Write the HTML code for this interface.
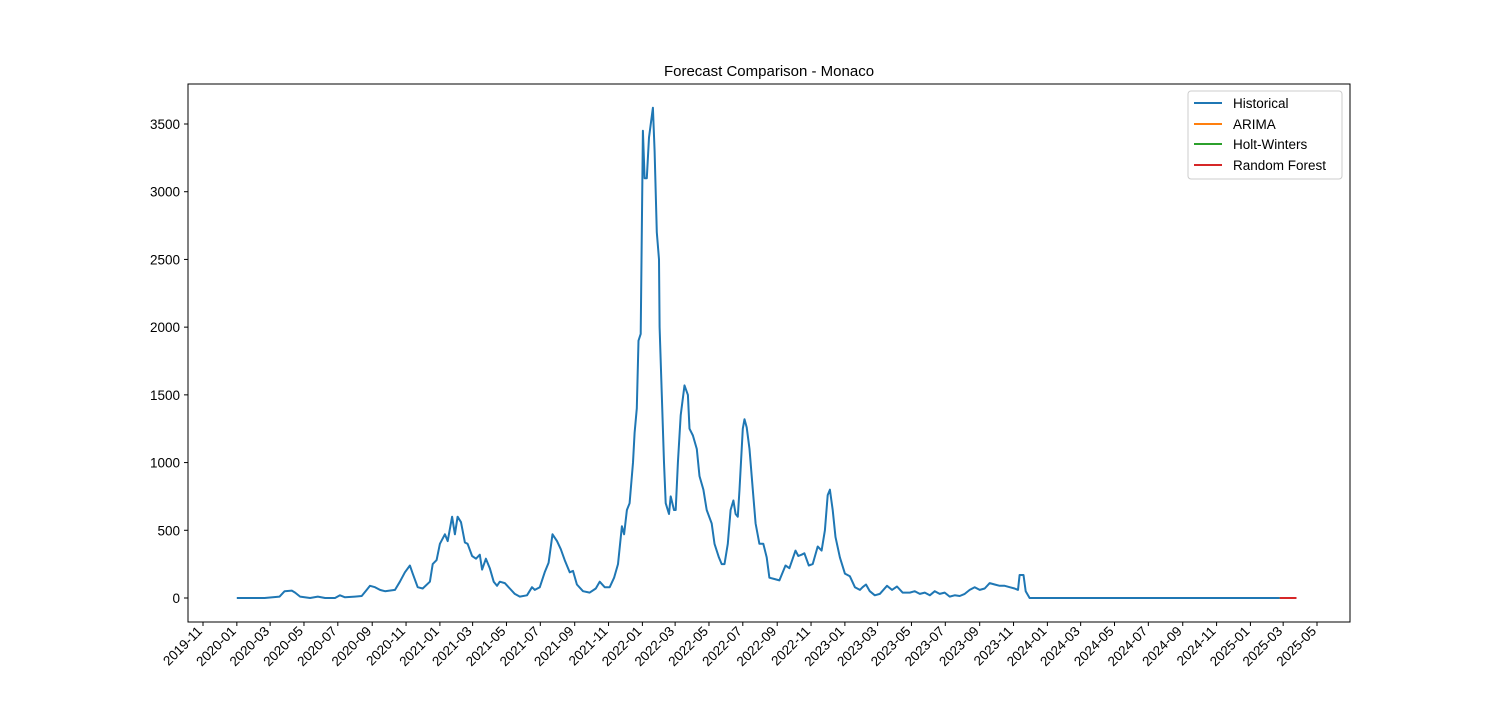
<!DOCTYPE html>
<html><head><meta charset="utf-8"><style>
body{margin:0;background:#fff;}
svg text{font-family:"Liberation Sans","DejaVu Sans",sans-serif;}
</style></head><body>
<svg id="chart" width="1500" height="700" xmlns="http://www.w3.org/2000/svg">
<rect width="1500" height="700" fill="#fff"/>
<text x="769" y="76" font-size="15" text-anchor="middle">Forecast Comparison - Monaco</text>
<g id="plot"></g>
<rect x="188" y="84" width="1162" height="538" fill="none" stroke="#000" stroke-width="1"/>
<g>
<rect x="1188" y="91" width="154" height="88" fill="#fff" stroke="#ccc" rx="3"/>
<g><line x1="1194" x2="1222" y1="103" y2="103" stroke="#1f77b4" stroke-width="2"/><text x="1233" y="108" font-size="13.5">Historical</text></g>
<g><line x1="1194" x2="1222" y1="124" y2="124" stroke="#ff7f0e" stroke-width="2"/><text x="1233" y="129" font-size="13.5">ARIMA</text></g>
<g><line x1="1194" x2="1222" y1="144" y2="144" stroke="#2ca02c" stroke-width="2"/><text x="1233" y="149" font-size="13.5">Holt-Winters</text></g>
<g><line x1="1194" x2="1222" y1="165" y2="165" stroke="#d62728" stroke-width="2"/><text x="1233" y="170" font-size="13.5">Random Forest</text></g>
</g>
</svg>
<script>
const startDate = "2020-01-01";
const histDays = [0,50,77,86,99,105,114,132,146,159,177,186,195,213,225,234,240,249,258,267,285,294,303,312,317,326,335,348,353,360,366,375,380,388,393,398,404,411,416,424,431,438,442,449,456,463,469,474,483,492,501,510,523,532,537,546,555,562,569,577,584,591,600,606,613,624,636,647,654,663,672,680,687,694,698,703,708,714,717,721,724,728,732,735,739,743,750,753,757,761,762,766,770,773,779,782,788,791,795,800,807,813,816,822,829,834,841,847,856,861,869,874,879,885,890,895,899,903,906,912,915,919,924,930,935,942,949,955,960,969,978,989,996,1002,1007,1012,1018,1023,1031,1038,1047,1054,1060,1065,1069,1074,1079,1087,1096,1105,1114,1123,1128,1134,1141,1150,1159,1172,1181,1190,1200,1213,1222,1231,1240,1249,1258,1267,1276,1285,1294,1303,1312,1321,1330,1339,1348,1357,1366,1375,1384,1393,1402,1408,1411,1418,1422,1429,1880];
const histValues = [0,0,10,50,55,40,10,0,10,0,0,20,5,10,15,60,90,80,60,50,60,120,190,240,180,80,70,120,250,280,400,470,420,600,470,600,560,410,400,310,290,320,210,290,220,120,90,120,110,70,30,10,20,80,60,80,190,260,470,420,360,280,190,200,100,50,40,70,120,80,80,150,250,530,470,650,700,1000,1220,1400,1900,1950,3450,3100,3100,3400,3620,3300,2700,2500,2000,1500,1000,700,620,750,650,650,1000,1350,1570,1500,1250,1200,1100,900,800,650,550,400,300,250,250,400,650,720,620,600,800,1250,1320,1260,1100,800,550,400,400,300,150,140,130,240,220,290,350,310,320,330,240,250,380,350,500,760,800,650,450,300,180,160,80,60,80,100,50,20,30,90,60,85,40,40,50,30,40,20,50,30,40,10,20,15,30,60,80,60,70,110,100,90,90,80,70,60,170,170,50,0,0];
const fcDays = [1880,1910];
const arimaValues = [0,0];
const hwValues = [0,0];
const rfValues = [0,0];
const yTicks = [0,500,1000,1500,2000,2500,3000,3500];
const xTickLabels = ["2019-11","2020-01","2020-03","2020-05","2020-07","2020-09","2020-11","2021-01","2021-03","2021-05","2021-07","2021-09","2021-11","2022-01","2022-03","2022-05","2022-07","2022-09","2022-11","2023-01","2023-03","2023-05","2023-07","2023-09","2023-11","2024-01","2024-03","2024-05","2024-07","2024-09","2024-11","2025-01","2025-03","2025-05"];

const NS="http://www.w3.org/2000/svg";
const t0=Date.parse("2019-11-01"), t1=Date.parse("2025-05-01");
const start=Date.parse(startDate);
function xTime(t){return 203+(t-t0)/(t1-t0)*1114;}
function xDay(d){return xTime(start+d*86400000);}
function yv(v){return 598-v*(474/3500);}
const plot=document.getElementById('plot');
function mk(tag,attrs){const e=document.createElementNS(NS,tag);for(const k in attrs)e.setAttribute(k,attrs[k]);plot.appendChild(e);return e;}
yTicks.forEach(v=>{
  const y=yv(v);
  const tk=mk('line',{x1:184,x2:188,y1:y,y2:y,stroke:'#000'});
  
  
  const tx=mk('text',{x:180,y:y+5,'font-size':13.5,'text-anchor':'end'});
  tx.textContent=v;
  
  
});
xTickLabels.forEach(s=>{
  const x=xTime(Date.parse(s+"-01"));
  const tk=mk('line',{x1:x,x2:x,y1:622,y2:626,stroke:'#000'});
  
  
  const tx=mk('text',{x:x,y:632,'font-size':13.5,'text-anchor':'end',transform:`rotate(-45 ${x} 632)`});
  tx.textContent=s;
  
  
});
function line(days,vals,color,name){
  const p=mk('polyline',{points:days.map((d,i)=>xDay(d).toFixed(1)+','+yv(vals[i]).toFixed(1)).join(' '),fill:'none',stroke:color,'stroke-width':2,'stroke-linejoin':'round'});
  
  
}
line(histDays,histValues,'#1f77b4','historical-line');
line(fcDays,arimaValues,'#ff7f0e','arima-line');
line(fcDays,hwValues,'#2ca02c','holt-winters-line');
line(fcDays,rfValues,'#d62728','random-forest-line');
</script>
</body></html>
